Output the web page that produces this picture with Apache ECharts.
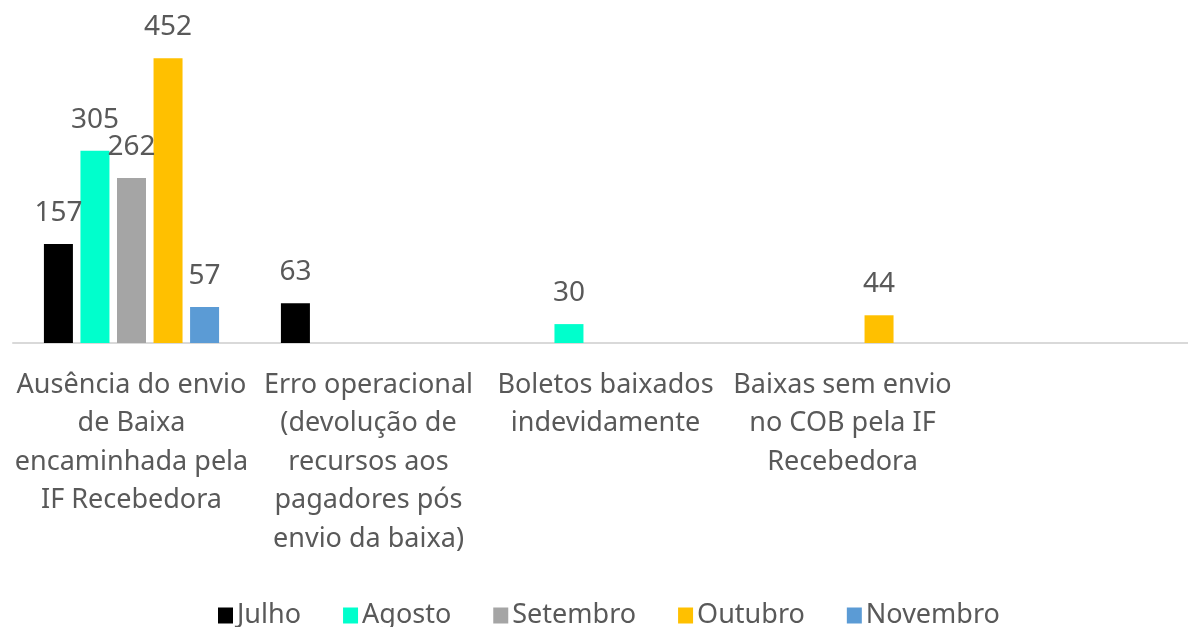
<!DOCTYPE html>
<html>
<head>
<meta charset="utf-8">
<script src="https://cdn.jsdelivr.net/npm/echarts@6/dist/echarts.min.js"></script>
<style>
html, body { margin: 0; padding: 0; background: #fff; overflow: hidden; }
/* the category axis runs a little past the right edge of the picture */
#chart { width: 1198px; height: 627px; }
</style>
</head>
<body>
<div id="chart"></div>
<script>
const categories = [
  'Ausência do envio\nde Baixa\nencaminhada pela\nIF Recebedora',
  'Erro operacional\n(devolução de\nrecursos aos\npagadores pós\nenvio da baixa)',
  'Boletos baixados\nindevidamente',
  'Baixas sem envio\nno COB pela IF\nRecebedora',
  ''
];
const months = ['Julho', 'Agosto', 'Setembro', 'Outubro', 'Novembro'];
const colors = ['#000000', '#00ffcc', '#a5a5a5', '#ffc000', '#5b9bd5'];
const julho = [157, 63, null, null, null];
const agosto = [305, null, 30, null, null];
const setembro = [262, null, null, null, null];
const outubro = [452, null, null, 44, null];
const novembro = [57, null, null, null, null];
const seriesData = [julho, agosto, setembro, outubro, novembro];

const font = '"Noto Sans", "Open Sans", sans-serif';
const chart = echarts.init(document.getElementById('chart'), null, { renderer: 'canvas' });
chart.setOption({
  backgroundColor: '#ffffff',
  animation: false,
  color: colors,
  grid: { left: 13, right: 0, top: 28, bottom: 284, containLabel: false },
  legend: {
    top: 597,
    left: 213,
    itemWidth: 15,
    itemHeight: 16,
    itemGap: 42,
    icon: 'rect',
    textStyle: { color: '#595959', fontSize: 27, fontFamily: font, padding: [0, 0, 0, -1] },
    data: months
  },
  xAxis: {
    type: 'category',
    data: categories,
    axisLine: { lineStyle: { color: '#d9d9d9', width: 2 } },
    axisTick: { show: false },
    axisLabel: {
      interval: 0,
      margin: 23,
      color: '#595959',
      fontSize: 27,
      lineHeight: 38.5,
      fontFamily: font
    }
  },
  yAxis: {
    type: 'value',
    min: 0,
    max: 500,
    show: false,
    splitLine: { show: false }
  },
  series: months.map(function (m, i) {
    return {
      name: m,
      type: 'bar',
      data: seriesData[i],
      barWidth: 29,
      barGap: '26%',
      label: {
        show: true,
        position: 'top',
        distance: 17,
        color: '#595959',
        fontSize: 28,
        fontFamily: font
      }
    };
  })
});
</script>
</body>
</html>
